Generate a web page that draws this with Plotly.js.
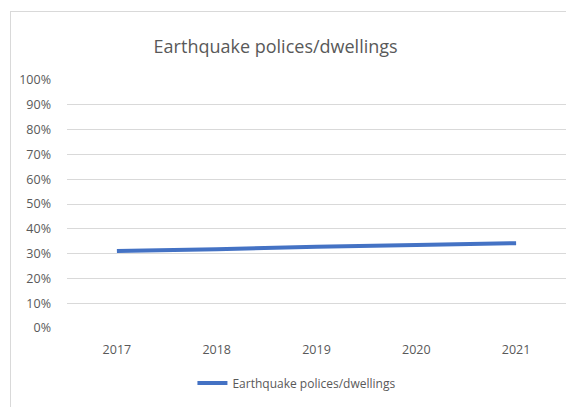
<!DOCTYPE html>
<html><head><meta charset="utf-8">
<script src="https://cdn.plot.ly/plotly-3.0.1.min.js"></script>
<style>
html,body{margin:0;padding:0;background:#fff;}
#wrap{position:relative;width:566px;height:407px;overflow:hidden;}
#chart{position:absolute;left:0;top:0;width:566px;height:407px;}
#frame{position:absolute;left:10px;top:11px;width:620px;height:420px;border:1px solid #d9d9d9;pointer-events:none;}
</style></head>
<body><div id="wrap"><div id="chart"></div><div id="frame"></div></div>
<script>
const years = ['2017','2018','2019','2020','2021'];
const seriesName = 'Earthquake polices/dwellings';
const values = [0.310, 0.318, 0.328, 0.335, 0.342];
const yTicks = [0,0.1,0.2,0.3,0.4,0.5,0.6,0.7,0.8,0.9,1.0];

const font = 'Open Sans, sans-serif';
Plotly.newPlot('chart', [{
  x: years, y: values, type: 'scatter', mode: 'lines', name: seriesName,
  line: {color: '#4472C4', width: 4, shape: 'linear', simplify: false}
}], {
  width: 566, height: 407,
  margin: {l: 67, r: 0, t: 80, b: 79},
  paper_bgcolor: 'rgba(0,0,0,0)', plot_bgcolor: '#fff',
  font: {family: font, color: '#595959', size: 12},
  title: {text: 'Earthquake polices/dwellings', font: {size: 18, color: '#595959', family: font},
          x: 0.487, xanchor: 'center', xref: 'container', y: 0.885, yanchor: 'middle', yref: 'container'},
  xaxis: {type: 'category', range: [-0.5, 4.5], showgrid: false, zeroline: false, showline: false,
          ticks: '', ticklabelstandoff: 12, tickfont: {size: 12.5, color: '#595959'}},
  yaxis: {range: [0, 1], tickvals: yTicks, tickformat: '.0%', showgrid: true, gridcolor: '#d9d9d9',
          gridwidth: 1, zeroline: false, showline: false, ticks: '', ticklabelstandoff: 15,
          tickfont: {size: 12.5, color: '#595959'}},
  showlegend: true,
  legend: {orientation: 'h', xref: 'container', yref: 'container', x: 0.34, xanchor: 'left',
           y: 0.059, yanchor: 'middle', font: {size: 12, color: '#595959'}, bgcolor: 'rgba(0,0,0,0)'}
}, {displayModeBar: false, staticPlot: true});
</script></body></html>
